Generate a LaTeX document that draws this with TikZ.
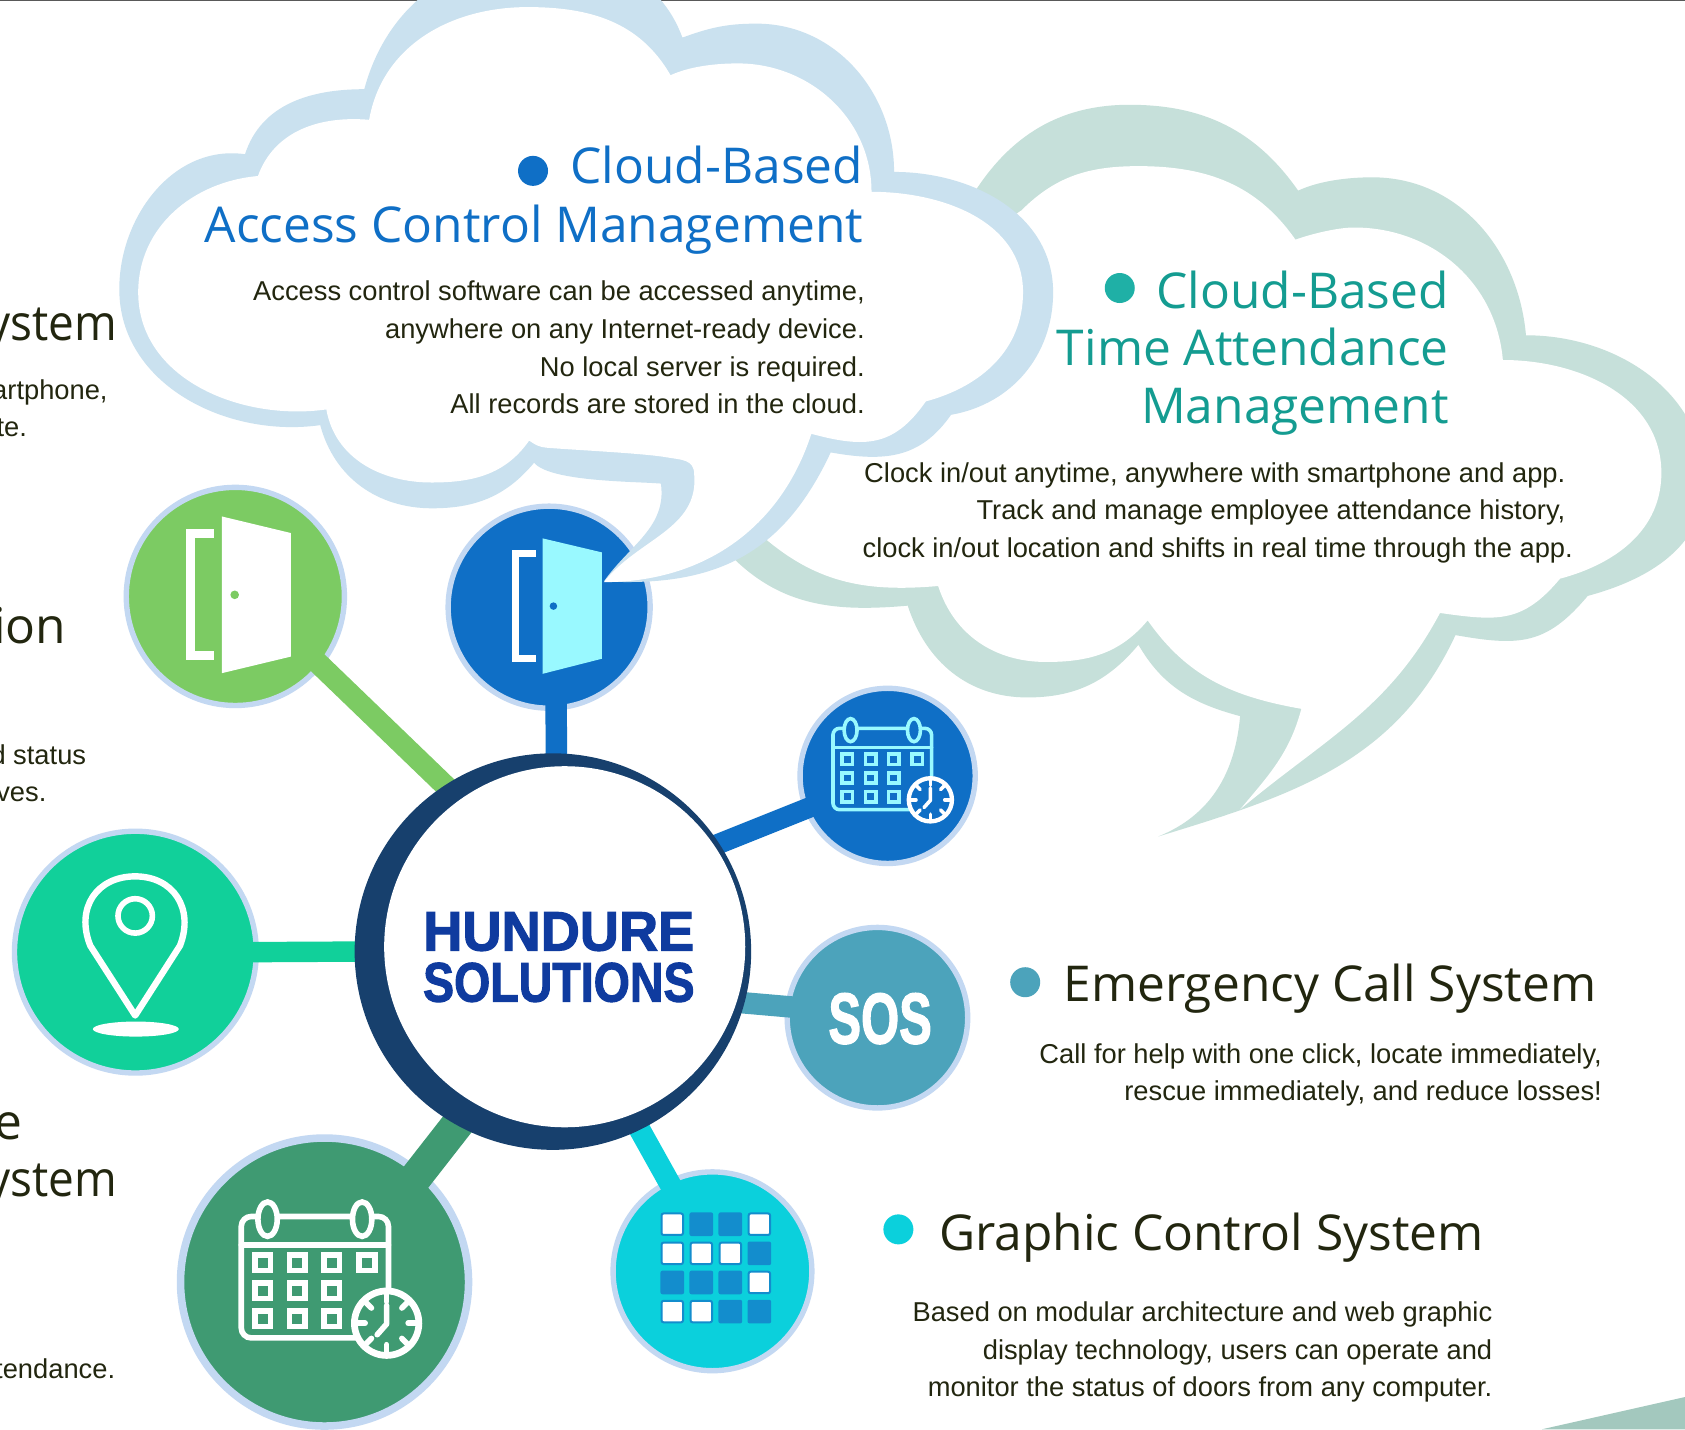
\documentclass[tikz,border=0pt]{standalone}
\usepackage{fontspec}
\setmainfont{Liberation Sans}
\newfontfamily\titlefont{Open Sans}
\newfontfamily\hunfont{Liberation Sans Bold}[FakeBold=2]
\definecolor{cloudblue}{HTML}{CAE1EF}
\definecolor{cloudgreen}{HTML}{C6E0DA}
\definecolor{ringc}{HTML}{C3D8F2}
\definecolor{navy}{HTML}{17406D}
\definecolor{doorgreen}{HTML}{7CCB63}
\definecolor{blue1}{HTML}{0F6FC6}
\definecolor{cyandoor}{HTML}{99F9FF}
\definecolor{pingreen}{HTML}{11D09A}
\definecolor{sosc}{HTML}{4CA3BB}
\definecolor{gridc}{HTML}{0BD0DC}
\definecolor{calgreen}{HTML}{3F9A72}
\definecolor{cellblue}{HTML}{138DCD}
\definecolor{inkc}{HTML}{22260F}
\definecolor{tealt}{HTML}{149C91}
\definecolor{tealb}{HTML}{1FB0A6}
\definecolor{hunc}{HTML}{0F3B9F}
\definecolor{wedgec}{HTML}{A3C8BE}
\pgfdeclarelayer{under}\pgfdeclarelayer{over}\pgfdeclarelayer{top}
\pgfsetlayers{under,main,over,top}
\tikzset{
 disc/.style 2 args={circle,inner sep=0pt,outer sep=0pt,draw=ringc,line width=#2*0.5373pt,fill=#1},
 bodyt/.style={anchor=base east,inner sep=0pt,font=\fontsize{13.65pt}{16pt}\selectfont,text=inkc},
 titlet/.style={anchor=base east,inner sep=0pt,xscale=1.005,font=\titlefont\fontsize{24.7pt}{29pt}\selectfont,text=#1},
 bullet/.style={circle,inner sep=0pt,outer sep=0pt,minimum size=15pt,fill=#1},
}
% spoke: colour, width, from, to
\newcommand\spoke[4]{%
 \begin{pgfonlayer}{under}\draw[ringc,line width=(#2+10)*0.5373pt,shorten <=-3pt] (#3) -- (#4);\end{pgfonlayer}
 \begin{pgfonlayer}{over}\draw[#1,line width=#2*0.5373pt,shorten <=-4pt,shorten >=-4pt] (#3) -- (#4);\end{pgfonlayer}}
% calendar icon: cx,cy,scale,colour,clock colour,background,line width
\newcommand\calicon[7]{%
 \begin{scope}[shift={(#1,#2)},scale=#3,line width=#7,line cap=round]
 \draw[#4,rounded corners=5pt*#3] (-68.5,-58) rectangle (68.5,55);
 \draw[#4] (-68.5,-31.5) -- (68.5,-31.5);
 \foreach \ex in {-44,44} {\draw[#4,fill=#6] (\ex,-55.5) ellipse (9 and 16);}
 \foreach \ex in {-48.7,-16.3,15.7,48.5} {\draw[#4] (\ex-7.25,-22.25) rectangle (\ex+7.25,-7.75);}
 \foreach \ex in {-48.7,-16.3,15.7} {\foreach \ey in {11,37} {\draw[#4] (\ex-7.25,\ey-7.25) rectangle (\ex+7.25,\ey+7.25);}}
 \draw[#5,fill=#6,line width=1.2*#7] (66.8,41.3) circle (30);
 \foreach \a in {0,45,...,315} {\draw[#5] ({66.8+20*cos(\a)},{41.3+20*sin(\a)}) -- ({66.8+29*cos(\a)},{41.3+29*sin(\a)});}
 \draw[#5,line join=round] (66.8,25) -- (66.8,42) -- (58,52);
 \end{scope}}
\begin{document}
\begin{tikzpicture}[x=0.53731pt,y=-0.53731pt]
\useasboundingbox (0,0) rectangle (1568,1330);
\fill[white] (0,0) rectangle (1568,1330);
\fill[wedgec] (1435,1330) -- (1568,1300) -- (1568,1330) -- cycle;
\fill[black!65] (0,0) rectangle (1568,1.2);
% discs
\node[disc={doorgreen}{5},minimum size=203*0.53731pt] (gdoor) at (219,555) {};
\node[disc={blue1}{5},minimum size=188*0.53731pt] (bdoor) at (511,565) {};
\node[disc={blue1}{5},minimum size=163*0.53731pt] (bcal) at (826,722) {};
\node[disc={pingreen}{5},minimum size=225*0.53731pt] (pin) at (126,886) {};
\node[disc={sosc}{5},minimum size=168*0.53731pt] (sos) at (816.5,947) {};
\node[disc={gridc}{5},minimum size=185*0.53731pt] (grid) at (663,1183) {};
\node[disc={calgreen}{7},minimum size=268*0.53731pt] (gcal) at (302,1193) {};
\begin{pgfonlayer}{top}
% green cloud, outer edge
\fill[cloudgreen] (641,486) -- (900,190)
 to[out=60,in=180] (1051,97.5)
 to[out=0,in=125] (1208,177.4)
 to[out=25,in=180,looseness=.8] (1277,165)
 to[out=0,in=95] (1420,312)
 to[out=0,in=90] (1586,449)
 to[out=-90,in=15] (1477.5,554.5)
 to[out=-130,in=-10,looseness=1.2] (1354.4,591)
 to[out=-115,in=17] (1077.8,778.4)
 to[out=22,in=-95] (1154,666.4)
 to[out=165,in=-60] (1059.4,600)
 to[out=-130,in=0] (956,649)
 to[out=180,in=-72] (844.7,563.6)
 to[out=185,in=-45] (681,518) -- cycle;
% green cloud, inner edge
\fill[white] (800,300) -- (950.6,195.7)
 to[out=45,in=180] (1059.4,154.6)
 to[out=0,in=125] (1205.5,223)
 to[out=20,in=180,looseness=.7] (1260,211.7)
 to[out=0,in=95] (1398.5,335)
 to[out=0,in=90] (1546,440)
 to[out=-90,in=15] (1451.7,538.5)
 to[out=-130,in=-8,looseness=1.2] (1340,570.4)
 to[out=-118,in=40] (1154,753.2)
 to[out=50,in=-105] (1211,659.6)
 to[out=170,in=-55] (1068,577.3)
 to[out=-130,in=0] (973.5,616)
 to[out=180,in=-72] (873,545.3)
 to[out=185,in=-40] (713,502) -- cycle;
% blue cloud, outer edge
\fill[cloudblue] (228,143.5)
 to[out=172,in=90] (111,269)
 to[out=-90,in=188] (298,395.6)
 to[out=-75,in=180] (402,473)
 to[out=0,in=-130] (497,430.6)
 to[out=-50,in=175,looseness=.5] (615,450)
 to[out=-82,in=55] (562,541)
 to[out=-3,in=-115,looseness=1.1] (773,421)
 to[out=-10,in=-125,looseness=1.1] (885,386)
 to[out=10,in=-90] (980,272)
 to[out=90,in=0] (832,160)
 to[out=90,in=0] (704,22)
 to[out=180,in=20] (635,35)
 to[out=110,in=0] (505,-42)
 to[out=180,in=75] (339,83)
 to[out=180,in=72] (228,143.5) -- cycle;
% blue cloud, inner edge
\fill[white] (343.5,111.5)
 to[out=80,in=180] (491,6.6)
 to[out=0,in=120] (624,70)
 to[out=25,in=180,looseness=.8] (686.5,59)
 to[out=0,in=90] (811,178.5)
 to[out=0,in=90] (952,272)
 to[out=-90,in=15] (861.6,373.5)
 to[out=-125,in=-15,looseness=1.2] (755,403.7)
 to[out=-108,in=0] (562,541.7)
 to[out=52,in=-85] (646,441.6)
 to[out=90,in=-10,looseness=1.2] (620,425.5)
 to[out=170,in=-5,looseness=.5] (508.5,416.6)
 to[out=175,in=-35] (492.4,410)
 to[out=-125,in=0] (401.6,449)
 to[out=180,in=-80] (303.7,381)
 to[out=188,in=-90] (128.6,272)
 to[out=90,in=185] (240,163.8)
 to[out=70,in=175] (343.5,111.5) -- cycle;
% hub
\node[circle,inner sep=0pt,outer sep=0pt,fill=navy,minimum size=369*0.53731pt] (hub) at (514.5,885.5) {};
\node[circle,inner sep=0pt,outer sep=0pt,fill=white,minimum size=336*0.53731pt] (hubin) at (525.5,881) {};
\node[anchor=base,inner sep=0pt,text=hunc,xscale=0.975,font=\hunfont\fontsize{27.8pt}{30pt}\selectfont] (h1) at (520,884.5) {HUNDURE};
\node[anchor=base,inner sep=0pt,text=hunc,xscale=0.837,font=\hunfont\fontsize{27.8pt}{30pt}\selectfont] (h2) at (520,932) {SOLUTIONS};
\end{pgfonlayer}
% spokes
\spoke{doorgreen}{20}{hub.123}{gdoor.-39}
\spoke{blue1}{20}{hub.89}{bdoor.-86}
\spoke{blue1}{19}{hub.33}{bcal.202}
\spoke{sosc}{20}{hub.-15}{sos.173}
\spoke{pingreen}{19}{hub.180}{pin.0}
\spoke{calgreen}{30}{hub.241}{gcal.49}
\spoke{gridc}{20}{hub.-64}{grid.116}
\begin{pgfonlayer}{top}
% door icons
\fill[white] (206.5,480.6) -- (270.6,496) -- (270.6,611) -- (206.5,626.4) -- cycle;
\draw[white,line width=4.5pt] (198.8,496.5) -- (177.5,496.5) -- (177.5,610) -- (198.8,610);
\fill[doorgreen] (218.4,553.5) circle (4);
\fill[cyandoor] (505,501) -- (560,514) -- (560,613) -- (505,627) -- cycle;
\draw[white,line width=3.7pt] (498.5,515) -- (479.5,515) -- (479.5,612.5) -- (498.5,612.5);
\fill[blue1] (515,564) circle (3.5);
% pin
\draw[white,line width=3.2pt,line join=round] (125.8,945) -- (84,880) .. controls (70,845) and (90,815.5) .. (125.8,815.5) .. controls (161,815.5) and (181,845) .. (167.5,880) -- cycle;
\draw[white,line width=2.8pt] (125.8,852.3) circle (16);
\fill[white] (126.4,957.6) ellipse (40 and 7);
% calendars
\calicon{293}{1190}{1}{white}{white}{calgreen}{2.8pt}
\calicon{821}{716.6}{0.67}{cyandoor}{white}{blue1}{1.8pt}
% grid
\foreach \c/\r/\k in {0/0/w,1/0/b,2/0/b,3/0/w,0/1/w,1/1/w,2/1/w,3/1/b,0/2/b,1/2/b,2/2/b,3/2/w,0/3/w,1/3/w,2/3/b,3/3/b}{
 \if\k w
 \draw[cellblue,fill=white,line width=1pt,rounded corners=1pt] ({625.6+27*\c-10},{1139.2+27.1*\r-10}) rectangle ({625.6+27*\c+10},{1139.2+27.1*\r+10});
 \else
 \fill[cellblue,rounded corners=1pt] ({625.6+27*\c-11},{1139.2+27.1*\r-11}) rectangle ({625.6+27*\c+11},{1139.2+27.1*\r+11});
 \fi}
% SOS
\node[inner sep=0pt,text=white,xscale=0.68,font=\hunfont\fontsize{36pt}{38pt}\selectfont,anchor=base] (sost) at (819,971) {SOS};
% titles
\node[bullet=blue1] (bu1) at (496,159) {};
\node[titlet=blue1] (t1a) at (803.5,171) {Cloud-Based};
\node[titlet=blue1] (t1b) at (803.5,225.5) {Access Control Management};
\node[bodyt] (b1a) at (805,280) {Access control software can be accessed anytime,};
\node[bodyt] (b1b) at (805,315) {anywhere on any Internet-ready device.};
\node[bodyt] (b1c) at (805,350) {No local server is required.};
\node[bodyt] (b1d) at (805,385) {All records are stored in the cloud.};
\node[bullet=tealb] (bu2) at (1042,268) {};
\node[titlet=tealt] (t2a) at (1348.5,287) {Cloud-Based};
\node[titlet=tealt] (t2b) at (1348.5,340.5) {Time Attendance};
\node[titlet=tealt] (t2c) at (1348.5,394) {Management};
\node[bodyt] (b2a) at (1457,449) {Clock in/out anytime, anywhere with smartphone and app.};
\node[bodyt] (b2b) at (1457,483) {Track and manage employee attendance history,};
\node[bodyt] (b2c) at (1464,518.5) {clock in/out location and shifts in real time through the app.};
\node[bullet=sosc] (bu3) at (954,914) {};
\node[titlet=inkc] (t3) at (1486,932) {Emergency Call System};
\node[bodyt] (b3a) at (1491,989.5) {Call for help with one click, locate immediately,};
\node[bodyt] (b3b) at (1491,1024) {rescue immediately, and reduce losses!};
\node[bullet=gridc] (bu4) at (836,1144) {};
\node[titlet=inkc] (t4) at (1381,1164) {Graphic Control System};
\node[bodyt] (b4a) at (1389,1230) {Based on modular architecture and web graphic};
\node[bodyt] (b4b) at (1389,1265) {display technology, users can operate and};
\node[bodyt] (b4c) at (1389,1299.5) {monitor the status of doors from any computer.};
% cut off at the left edge
\node[titlet=inkc,xscale=0.925] (l1) at (109,317) {ystem};
\node[bodyt] (l2) at (100.5,372) {artphone,};
\node[bodyt] (l3) at (25.5,406) {te.};
\node[titlet=inkc] (l4) at (62,599) {ion};
\node[bodyt] (l5) at (80.5,711) {d status};
\node[bodyt] (l6) at (43.5,746) {ves.};
\node[titlet=inkc] (l7) at (21,1060) {e};
\node[titlet=inkc,xscale=0.925] (l8) at (109,1113.5) {ystem};
\node[bodyt] (l9) at (107.5,1282.5) {tendance.};
\end{pgfonlayer}
\end{tikzpicture}
\end{document}
